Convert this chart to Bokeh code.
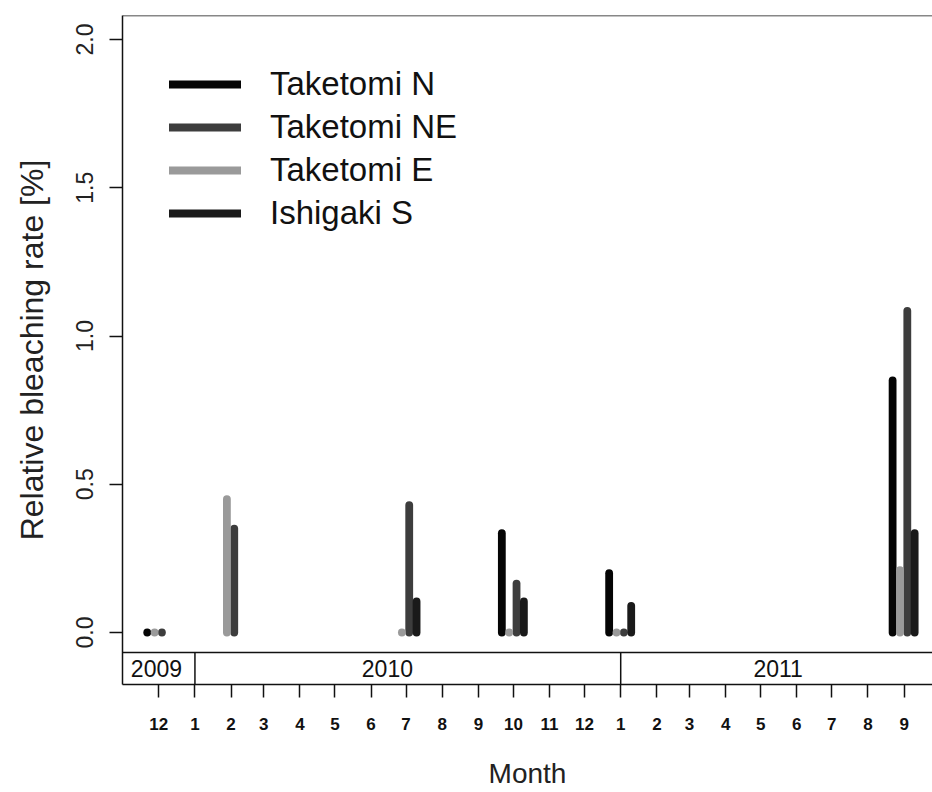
import numpy as np
import pandas as pd
from bokeh.plotting import figure
from bokeh.models import Range1d, FixedTicker, Span, Legend, LegendItem, ColumnDataSource
from bokeh.core.properties import value
from bokeh.embed import file_html
from bokeh.resources import INLINE

# ---------------- data ----------------
origin = pd.Timestamp("2009-12-01")
survey_months = ["2009-12-01", "2010-02-01", "2010-07-01", "2010-10-01", "2011-01-01", "2011-09-01"]
series_names = ["Taketomi N", "Taketomi NE", "Taketomi E", "Ishigaki S"]
taketomi_n = [0.0, np.nan, np.nan, 0.335, 0.20, 0.85]
taketomi_ne = [0.0, 0.35, 0.43, 0.165, 0.0, 1.085]
taketomi_e = [0.0, 0.45, 0.0, 0.0, 0.0, 0.21]
ishigaki_s = [np.nan, np.nan, 0.105, 0.105, 0.09, 0.335]
series_values = [taketomi_n, taketomi_ne, taketomi_e, ishigaki_s]
series_colors = ["#050505", "#3d3d3d", "#9a9a9a", "#1a1a1a"]
series_dodge_days = [-9.9, 2.7, -3.6, 9.0]

month_starts = pd.date_range("2009-12-01", "2011-09-01", freq="MS")
year_names = ["2009", "2010", "2011"]
year_label_dates = ["2009-11-29", "2010-06-15", "2011-05-16"]
year_break_dates = ["2010-01-01", "2011-01-01"]
y_ticks = [0.0, 0.5, 1.0, 1.5, 2.0]
y_tick_labels = ["0.0", "0.5", "1.0", "1.5", "2.0"]


def days(d):
    return (pd.Timestamp(d) - origin).days

FONT = "Liberation Sans"
x_start, x_end = -31.1, 663.3
y_start, y_end = -0.1753, 2.081
band_top = -0.0674

p = figure(width=932, height=792, output_backend="svg", toolbar_location=None,
           x_range=Range1d(x_start, x_end), y_range=Range1d(y_start, y_end),
           min_border_left=122, min_border_right=0, min_border_top=15, min_border_bottom=108)
p.outline_line_color = None
p.grid.visible = False
p.background_fill_color = "white"

# frame lines
p.add_layout(Span(location=y_end, dimension="width", line_color="#111", line_width=1.5))
p.add_layout(Span(location=band_top, dimension="width", line_color="#111", line_width=1.5))
p.segment(x0=[days(d) for d in year_break_dates], x1=[days(d) for d in year_break_dates],
          y0=y_start, y1=band_top, line_color="#111", line_width=1.5)
p.text(x=[days(d) for d in year_label_dates], y=(y_start + band_top) / 2, text=year_names,
       text_align="center", text_baseline="middle", text_font=value(FONT),
       text_font_size="23px", text_color="#111")

# bars
renderers = []
for name, vals, col, dodge in zip(series_names, series_values, series_colors, series_dodge_days):
    xs, ys = [], []
    for m, v in zip(survey_months, vals):
        if not np.isnan(v):
            xs.append(days(m) + dodge)
            ys.append(v)
    src = ColumnDataSource(dict(x=xs, y=ys))
    r = p.segment(x0="x", y0=0, x1="x", y1="y", source=src, line_color=col,
                  line_width=7.8, line_cap="round")
    renderers.append(r)

legend = Legend(items=[LegendItem(label=n, renderers=[r]) for n, r in zip(series_names, renderers)],
                location=(47, 451), margin=0, padding=0, glyph_width=72, glyph_height=40,
                label_height=40, spacing=3, label_standoff=29,
                label_text_font=FONT, label_text_font_size="33px", label_text_color="#111",
                border_line_color=None, background_fill_alpha=0)
p.add_layout(legend)

# axes
ya = p.yaxis[0]
ya.ticker = FixedTicker(ticks=y_ticks)
ya.major_label_overrides = {t: s for t, s in zip(y_ticks, y_tick_labels)}
ya.axis_label = "Relative bleaching rate [%]"
ya.major_label_orientation = "vertical"
ya.major_label_text_font = FONT
ya.major_label_text_font_size = "23px"
ya.major_label_text_color = "#222"
ya.major_tick_out = 13
ya.major_tick_in = 0
ya.minor_tick_line_color = None
ya.major_label_standoff = 16
ya.axis_label_text_font = FONT
ya.axis_label_text_font_size = "32px"
ya.axis_label_text_font_style = "normal"
ya.axis_label_text_color = "#222"
ya.axis_label_standoff = 24
ya.axis_line_width = 1.5
ya.major_tick_line_width = 1.5
ya.axis_line_color = "#111"
ya.major_tick_line_color = "#111"

xa = p.xaxis[0]
tick_pos = [days(d) for d in month_starts]
xa.ticker = FixedTicker(ticks=tick_pos)
xa.major_label_overrides = {t: str(d.month) for t, d in zip(tick_pos, month_starts)}
xa.axis_label = "Month"
xa.major_label_text_font = FONT
xa.major_label_text_font_size = "17px"
xa.major_label_text_font_style = "bold"
xa.major_label_text_color = "#111"
xa.major_tick_out = 13
xa.major_tick_in = 0
xa.minor_tick_line_color = None
xa.major_label_standoff = 20
xa.axis_label_text_font = FONT
xa.axis_label_text_font_size = "28px"
xa.axis_label_text_font_style = "normal"
xa.axis_label_text_color = "#222"
xa.axis_label_standoff = 25
xa.axis_line_width = 1.5
xa.major_tick_line_width = 1.5
xa.axis_line_color = "#111"
xa.major_tick_line_color = "#111"

open("out.html", "w").write(file_html(p, INLINE))
